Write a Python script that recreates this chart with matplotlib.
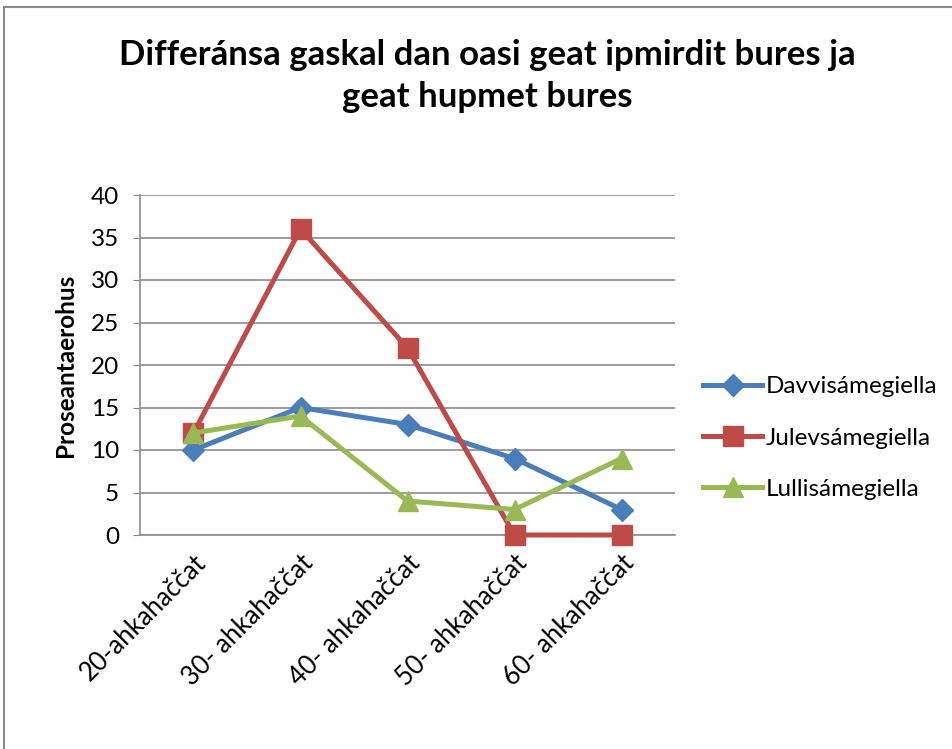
import numpy as np
import matplotlib.pyplot as plt
from matplotlib.patches import Rectangle

plt.rcParams['font.family'] = ['Lato', 'DejaVu Sans']

categories = ['20-ahkahaččat', '30- ahkahaččat', '40- ahkahaččat', '50- ahkahaččat', '60- ahkahaččat']
davvi = [10, 15, 13, 9, 3]
julev = [12, 36, 22, 0, 0]
lulli = [12, 14, 4, 3, 9]
series_names = ['Davvisámegiella', 'Julevsámegiella', 'Lullisámegiella']
yticks = [0, 5, 10, 15, 20, 25, 30, 35, 40]

fig = plt.figure(figsize=(9.53, 7.49), dpi=100)
ax = fig.add_axes([140 / 953, 1 - 535 / 749, 535 / 953, 340 / 749])

# chart frame (top and left edges visible)
fig.patches.append(Rectangle((4 / 953, -0.1), 1.2, 1 - 7 / 749 + 0.1, transform=fig.transFigure,
                             fill=False, edgecolor='#8c8c8c', linewidth=1.5))

x = np.arange(len(categories)) + 0.5
ax.plot(x, davvi, color='#4A7EBB', lw=3.6, marker='D', ms=11, label=series_names[0], zorder=3, clip_on=False)
ax.plot(x, julev, color='#BE4B48', lw=3.6, marker='s', ms=14, label=series_names[1], zorder=3, clip_on=False)
ax.plot(x, lulli, color='#98B954', lw=3.6, marker='^', ms=15, label=series_names[2], zorder=4, clip_on=False)

ax.set_xlim(0, len(categories))
ax.set_ylim(0, 40)
ax.set_yticks(yticks)
ax.set_xticks(x)
ax.set_xticklabels(categories, rotation=45, ha='right', rotation_mode='anchor', fontsize=18.5)
ax.tick_params(axis='y', labelsize=17.5, length=5, color='#888888', pad=10)
ax.tick_params(axis='x', length=0, pad=11)
ax.grid(axis='y', color='#8c8c8c', lw=1.2)
ax.set_axisbelow(True)
for s in ['top', 'right']:
    ax.spines[s].set_visible(False)
for s in ['left', 'bottom']:
    ax.spines[s].set_color('#8c8c8c')
    ax.spines[s].set_linewidth(1.2)

ax.set_ylabel('Proseantaerohus', fontsize=17.5, fontweight='bold', labelpad=10)
fig.text(487 / 953, 1 - 76 / 749, 'Differánsa gaskal dan oasi geat ipmirdit bures ja\ngeat hupmet bures',
         ha='center', va='center', fontsize=25, fontweight='bold', linespacing=1.35)

ax.legend(loc='center left', bbox_to_anchor=(1.035, 0.285), frameon=False, fontsize=17.5,
          handlelength=2.4, labelspacing=1.25, handletextpad=0.15, borderaxespad=0)

fig.savefig('out.png', dpi=100)
